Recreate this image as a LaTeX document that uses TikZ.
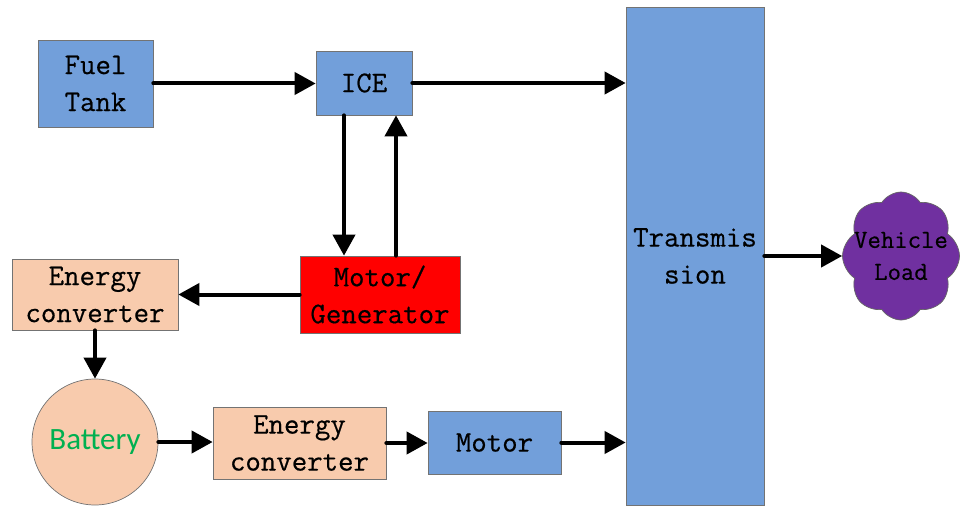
\documentclass[tikz,border=0pt]{standalone}
\usepackage{fontspec}
\setsansfont{Carlito}
\setmonofont{Latin Modern Mono}[FakeBold=0.5]
\usetikzlibrary{arrows.meta,shapes.symbols}
\definecolor{boxblue}{HTML}{729FDA}
\definecolor{peach}{HTML}{F8CBAD}
\definecolor{vpurple}{HTML}{7030A0}
\definecolor{bgreen}{HTML}{00B050}
\begin{document}
\begin{tikzpicture}[x=1pt,y=-1pt,
 blk/.style={draw=black!55, line width=0.7pt, inner sep=0pt, align=center, font=\ttfamily\fontsize{30}{37}\selectfont},
 bluebox/.style={blk, fill=boxblue},
 peachbox/.style={blk, fill=peach},
 flow/.style={line width=4pt, line cap=round, -{Triangle[length=21pt,width=22pt]}}]
\useasboundingbox (0,0) rectangle (963,508);
\node[bluebox, minimum width=115pt, minimum height=87pt] (fuel) at (95.5,83.5) {Fuel\\Tank};
\node[bluebox, minimum width=96pt, minimum height=64pt] (ice) at (364,83) {ICE};
\node[bluebox, minimum width=138pt, minimum height=498pt] (trans) at (695,256) {Transmis\\sion};
\node[cloud, cloud puffs=8, cloud puff arc=115, aspect=0.9, draw=black!60, line width=0.7pt, fill=vpurple, minimum width=117pt, minimum height=128pt, inner sep=0pt,
  label={[align=center, font=\ttfamily\fontsize{26}{32}\selectfont]center:Vehicle\\Load}] (load) at (901,256) {};
\node[blk, fill=red, minimum width=160pt, minimum height=77pt] (mg) at (380,294.5) {Motor/\\Generator};
\node[peachbox, minimum width=166pt, minimum height=71pt] (ec1) at (95,294.5) {Energy\\converter};
\node[circle, draw=black!55, line width=0.7pt, fill=peach, minimum size=126pt, inner sep=0pt, font=\sffamily\fontsize{31}{36}\selectfont, text=bgreen] (bat) at (95,442) {Battery};
\node[peachbox, minimum width=173pt, minimum height=72pt] (ec2) at (299.5,443) {Energy\\converter};
\node[bluebox, minimum width=133pt, minimum height=63pt] (motor) at (494.5,442.5) {Motor};
\draw[flow] (fuel.east) -- (fuel.east -| ice.west);
\draw[flow] (ice.east) -- (ice.east -| trans.west);
\draw[flow] ([xshift=-20pt]ice.south) -- ([xshift=-20pt]ice.south |- mg.north);
\draw[flow] ([xshift=32pt]ice.south |- mg.north) -- ([xshift=32pt]ice.south);
\draw[flow] (mg.west) -- (mg.west -| ec1.east);
\draw[flow] (ec1.south) -- (bat.north);
\draw[flow] (bat.east) -- (bat.east -| ec2.west);
\draw[flow] (ec2.east) -- (ec2.east -| motor.west);
\draw[flow] (motor.east) -- (motor.east -| trans.west);
\draw[flow] (trans.east |- load.west) -- (load.west);
\end{tikzpicture}
\end{document}
